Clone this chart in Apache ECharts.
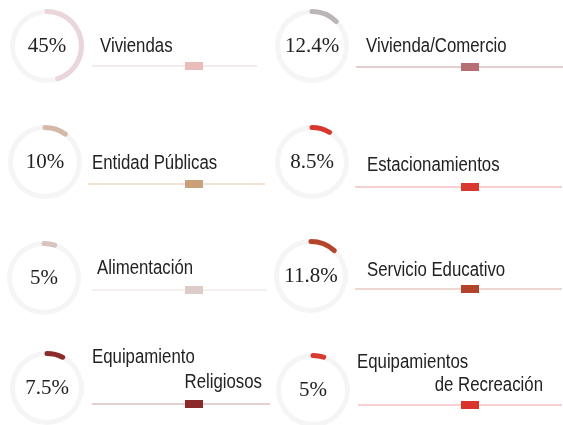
<!DOCTYPE html>
<html>
<head>
<meta charset="utf-8">
<script src="https://cdn.jsdelivr.net/npm/echarts@6/dist/echarts.min.js"></script>
<style>
  html, body { margin: 0; padding: 0; background: #fff; }
  #chart { width: 563px; height: 425px; }
</style>
</head>
<body>
<div id="chart"></div>
<script>
// datos
const categories = [
  "Viviendas", "Vivienda/Comercio",
  "Entidad Públicas", "Estacionamientos",
  "Alimentación", "Servicio Educativo",
  "Equipamiento\nReligiosos", "Equipamientos\nde Recreación"
];
const values = [45, 12.4, 10, 8.5, 5, 11.8, 7.5, 5];

// colores
const arcColors = ["#ead6da", "#bab5b8", "#d6b8a8", "#d8372f", "#d8c3bf", "#b5452a", "#8c2b2b", "#d83a2e"];
const boxColors = ["#e9bcbc", "#b86f74", "#c9a07a", "#d7382f", "#ddcbc7", "#b2432a", "#8b2a2a", "#d9342b"];
const lineColors = ["#f0d6d6", "#c99b9e", "#e3c6a8", "#eaa3a2", "#ece0de", "#e0b0a4", "#c9a2a2", "#f0a3a3"];

// posiciones de cada celda
const layout = [
  { cx: 47, cy: 46, tx: 100, ty: 46, lx: [92, 257], ly: 66 },
  { cx: 312, cy: 46, tx: 366, ty: 46, lx: [356, 563], ly: 67 },
  { cx: 45, cy: 162, tx: 92, ty: 163, lx: [88, 265], ly: 184 },
  { cx: 312, cy: 162, tx: 367, ty: 165, lx: [355, 562], ly: 187 },
  { cx: 44, cy: 278, tx: 97, ty: 268, lx: [92, 267], ly: 290 },
  { cx: 311, cy: 276, tx: 367, ty: 270, lx: [355, 562], ly: 289 },
  { cx: 47, cy: 388, tx: 92, ty: 357, tx2: 262, ty2: 382, lx: [92, 270], ly: 404 },
  { cx: 313, cy: 390, tx: 357, ty: 362, tx2: 543, ty2: 385, lx: [358, 562], ly: 405 }
];

// fuente angosta: Liberation Sans comprimida
const labelFont = "20px 'Liberation Sans'";
const labelScale = 0.84;

const myChart = echarts.init(document.getElementById("chart"));

let series = [];
let graphic = [];

values.forEach((v, i) => {
  const p = layout[i];
  series.push({
    type: "gauge",
    center: [p.cx, p.cy],
    radius: 37,
    startAngle: 90,
    endAngle: -270,
    min: 0,
    max: 100,
    pointer: { show: false },
    progress: {
      show: true,
      roundCap: true,
      width: 5,
      itemStyle: { color: arcColors[i] }
    },
    axisLine: {
      lineStyle: { width: 5, color: [[1, "#f5f5f5"]] }
    },
    splitLine: { show: false },
    axisTick: { show: false },
    axisLabel: { show: false },
    title: { show: false },
    detail: {
      offsetCenter: [0, 0],
      fontFamily: "Liberation Serif",
      fontWeight: "normal",
      fontSize: 21,
      color: "#222",
      formatter: "{value}%"
    },
    data: [{ value: v, name: categories[i] }]
  });

  // linea y marca
  graphic.push({
    type: "line",
    shape: { x1: p.lx[0], y1: p.ly, x2: p.lx[1], y2: p.ly },
    style: { stroke: lineColors[i], lineWidth: 1.2 }
  });
  graphic.push({
    type: "rect",
    x: i % 2 === 0 ? 185 : 461,
    y: p.ly - 4,
    shape: { width: 18, height: 8 },
    style: { fill: boxColors[i] }
  });

  // etiquetas
  const parts = categories[i].split("\n");
  graphic.push({
    type: "text",
    x: p.tx,
    y: p.ty,
    scaleX: labelScale,
    style: {
      text: parts[0],
      font: labelFont,
      fill: "#222",
      verticalAlign: "middle"
    }
  });
  if (parts.length > 1) {
    graphic.push({
      type: "text",
      x: p.tx2,
      y: p.ty2,
      scaleX: labelScale,
      style: {
        text: parts[1],
        font: labelFont,
        fill: "#222",
        align: "right",
        verticalAlign: "middle"
      }
    });
  }
});

myChart.setOption({
  animation: false,
  series: series,
  graphic: graphic
});
</script>
</body>
</html>
